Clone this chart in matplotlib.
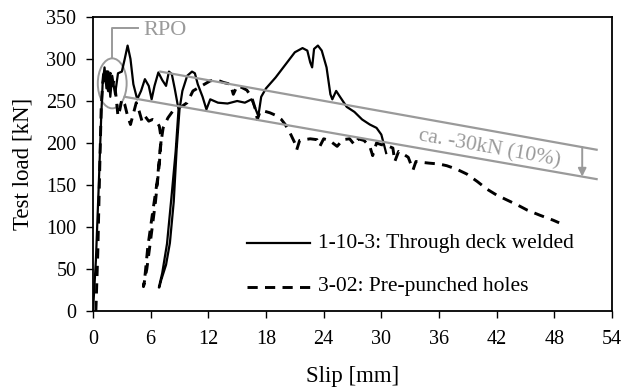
import matplotlib
matplotlib.use("Agg")
import matplotlib.pyplot as plt
from matplotlib.patches import Ellipse

plt.rcParams['font.family'] = ['Liberation Serif', 'DejaVu Serif']

# 1-10-3: Through deck welded (slip in mm, load in kN)
slip_welded = [0.0, 0.3, 0.6, 0.85, 1.0, 1.2, 1.4, 1.6, 1.8, 2.0, 2.3, 2.6, 3.0, 3.3, 3.6,
               3.9, 4.2, 4.6, 5.0, 5.4, 5.8, 6.1, 6.4, 6.8, 7.2, 7.6, 7.9, 8.2, 8.5, 8.9,
               8.6, 8.2, 7.7, 7.2, 6.85, 6.9, 7.1, 7.6, 8.0, 8.4, 8.7, 9.0, 9.3, 9.8, 10.3,
               10.6, 10.9, 11.4, 11.8, 12.2, 13.0, 14.0, 15.0, 15.8, 16.5, 17.0, 17.2, 17.5,
               18.0, 19.0, 20.0, 21.0, 21.8, 22.3, 22.6, 22.8, 23.0, 23.4, 23.8, 24.3, 24.7,
               24.9, 25.3, 25.7, 26.4, 27.2, 28.0, 28.8, 29.5, 30.0, 30.3, 30.5]
load_welded = [0, 60, 150, 230, 270, 290, 265, 285, 255, 280, 258, 283, 285, 300, 316,
               300, 270, 252, 262, 276, 268, 252, 268, 284, 275, 268, 285, 282, 265, 240,
               190, 140, 80, 45, 28, 28, 37, 55, 81, 130, 192, 240, 262, 280, 285,
               283, 270, 255, 240, 252, 248, 247, 250, 248, 252, 238, 232, 255,
               265, 278, 293, 308, 313, 310, 296, 290, 312, 316, 310, 290, 258,
               252, 262, 255, 243, 237, 228, 222, 218, 210, 197, 188]

# 3-02: Pre-punched holes (slip in mm, load in kN)
slip_punched = [0.3, 0.5, 0.7, 0.85, 1.0, 1.15, 1.3, 1.45, 1.6, 1.8, 2.0, 2.2, 2.4, 2.6, 2.8,
                3.0, 3.3, 3.6, 3.9, 4.2, 4.5, 4.8, 5.1, 5.4, 5.8, 6.2, 6.6, 6.9, 7.1, 6.9,
                6.5, 6.0, 5.6, 5.25, 5.35, 5.7, 6.2, 6.7, 7.0, 7.3, 7.8, 8.3, 8.8, 9.3, 9.8,
                10.4, 11.0, 11.6, 12.2, 12.9, 13.6, 14.3, 14.6, 15.0, 15.5, 16.0, 16.5, 16.9,
                17.1, 17.4, 17.8, 18.4, 19.0, 19.6, 20.0, 20.5, 21.0, 21.2, 21.5, 22.0, 22.6,
                23.3, 23.6, 24.0, 24.6, 25.4, 26.0, 26.7, 27.2, 27.6, 28.2, 28.8, 29.1, 29.5,
                30.0, 30.6, 31.2, 31.4, 31.8, 32.4, 32.8, 33.3, 33.6, 34.2, 35.0, 36.0, 36.8,
                37.8, 38.9, 40.0, 41.0, 42.0, 43.1, 44.2, 45.2, 46.5, 47.9, 48.5]
load_punched = [0, 70, 170, 240, 270, 288, 270, 285, 262, 283, 268, 275, 255, 232, 240,
                252, 246, 232, 222, 235, 248, 238, 226, 232, 226, 228, 226, 220, 205, 175,
                130, 85, 50, 29, 35, 76, 117, 156, 195, 218, 230, 238, 242, 244, 248,
                262, 266, 270, 274, 275, 272, 270, 258, 268, 266, 263, 255, 240,
                228, 238, 238, 236, 233, 228, 222, 212, 200, 192, 203, 204, 205,
                204, 196, 205, 203, 196, 204, 205, 198, 205, 203, 196, 185, 200,
                198, 197, 194, 178, 190, 186, 183, 168, 178, 177, 176, 175, 173,
                169, 163, 154, 145, 138, 132, 126, 120, 114, 108, 105]

# Trend lines bounding the post-peak load drop
upper_trend_slip = [7.0, 52.4]
upper_trend_load = [285, 192]
lower_trend_slip = [3.3, 52.4]
lower_trend_load = [255, 157]

x_ticks = [0, 6, 12, 18, 24, 30, 36, 42, 48, 54]
y_ticks = [0, 50, 100, 150, 200, 250, 300, 350]

labels = ["1-10-3: Through deck welded", "3-02: Pre-punched holes"]

gray = "#9a9a9a"

fig = plt.figure(figsize=(6.24, 3.91), dpi=100)
ax = fig.add_axes([93 / 624, 1 - 311 / 391, 519 / 624, 294 / 391])

ax.plot(slip_welded, load_welded, color="black", lw=1.6, solid_joinstyle="round")
ax.plot(slip_punched, load_punched, color="black", lw=2.1, dashes=(3.5, 2.5))

ax.plot(upper_trend_slip, upper_trend_load, color=gray, lw=1.6)
ax.plot(lower_trend_slip, lower_trend_load, color=gray, lw=1.6)

# Arrow marking the drop between the two trend lines
arrow_x = 50.9
y_top = upper_trend_load[0] + (upper_trend_load[1] - upper_trend_load[0]) * (arrow_x - upper_trend_slip[0]) / (upper_trend_slip[1] - upper_trend_slip[0])
y_bot = lower_trend_load[0] + (lower_trend_load[1] - lower_trend_load[0]) * (arrow_x - lower_trend_slip[0]) / (lower_trend_slip[1] - lower_trend_slip[0])
ax.annotate("", xy=(arrow_x, y_bot), xytext=(arrow_x, y_top),
            arrowprops=dict(arrowstyle="-|>", color=gray, lw=1.4, mutation_scale=12,
                            shrinkA=0, shrinkB=0))
ax.text(41.3, 193, "ca. -30kN (10%)", color=gray, fontsize=15.5, rotation=-10.2,
        rotation_mode="anchor", ha="center", va="center")

# RPO marker
ax.add_patch(Ellipse((2.0, 271), 3.0, 59.5, fill=False, edgecolor=gray, lw=1.4))
ax.plot([1.98, 1.98, 4.7], [301, 337, 337], color=gray, lw=1.4, clip_on=False)
ax.text(5.2, 334, "RPO", color=gray, fontsize=16, ha="left", va="center")

# Legend
ax.plot([0.297, 0.418], [0.231, 0.231], transform=ax.transAxes, color="black", lw=1.6)
ax.plot([0.297, 0.418], [0.082, 0.082], transform=ax.transAxes, color="black", lw=2.1,
        dashes=(3.5, 2.5))
ax.text(0.434, 0.231, labels[0], transform=ax.transAxes, fontsize=15.5, va="center", ha="left")
ax.text(0.434, 0.082, labels[1], transform=ax.transAxes, fontsize=15.5, va="center", ha="left")

ax.set_xlim(0, 54)
ax.set_ylim(0, 350)
ax.set_xticks(x_ticks)
ax.set_yticks(y_ticks)
ax.tick_params(axis="x", direction="out", length=5, width=1.0, labelsize=14.5, pad=9)
ax.tick_params(axis="y", direction="out", length=5, width=1.0, labelsize=14.5, pad=7)
for sp in ax.spines.values():
    sp.set_linewidth(1.3)

ax.set_xlabel("Slip [mm]", fontsize=16.5, labelpad=12)
ax.set_ylabel("Test load [kN]", fontsize=16.5, labelpad=9)

fig.savefig("out.png", dpi=100)
